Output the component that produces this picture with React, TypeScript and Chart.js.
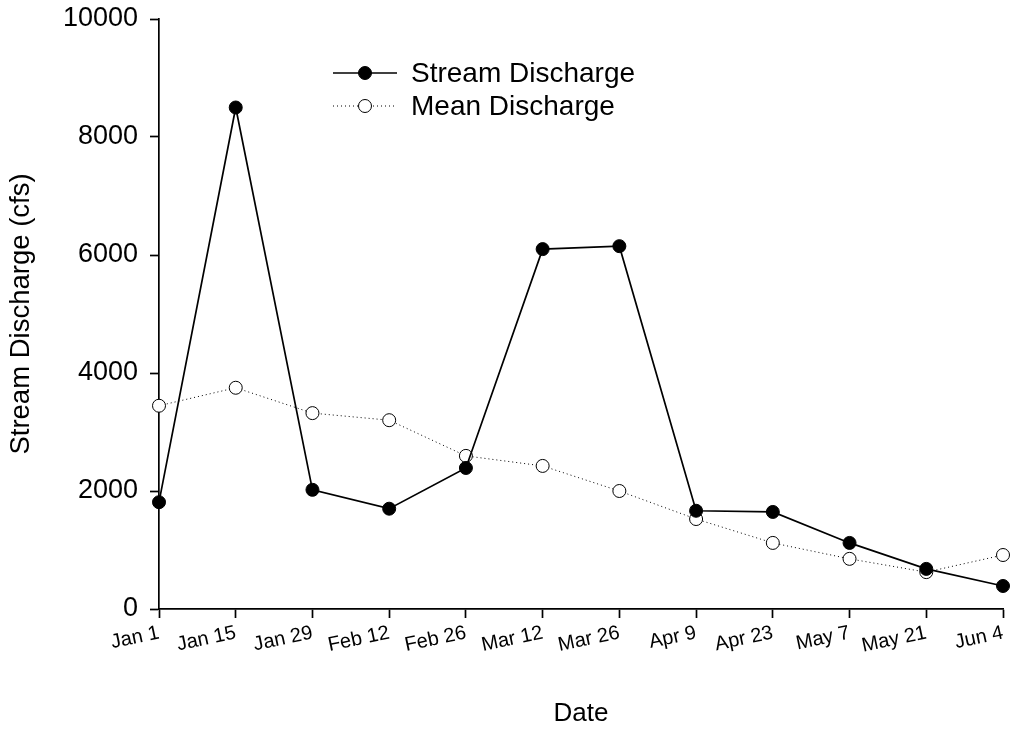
import React, { useEffect, useRef } from "react";
import { Chart, registerables } from "chart.js";

Chart.register(...registerables);

const dates = ["Jan 1", "Jan 15", "Jan 29", "Feb 12", "Feb 26", "Mar 12", "Mar 26", "Apr 9", "Apr 23", "May 7", "May 21", "Jun 4"];
const streamDischarge = [1810, 8500, 2020, 1700, 2390, 6100, 6150, 1665, 1645, 1120, 680, 390];
const meanDischarge = [3445, 3750, 3320, 3200, 2595, 2425, 2000, 1525, 1120, 850, 625, 915];
const yTicks = [0, 2000, 4000, 6000, 8000, 10000];

const FONT = "'Liberation Sans', Arial, sans-serif";

const legendPlugin = {
  id: "customLegend",
  afterDatasetsDraw(chart: any) {
    const ctx = chart.ctx;
    const items = chart.data.datasets.map((d: any) => ({
      label: d.label,
      color: d.borderColor,
      fill: d.pointBackgroundColor,
      dash: d.borderDash || [],
      width: d.borderWidth,
      r: d.pointRadius,
    }));
    const x0 = 333;
    const x1 = 397;
    const tx = 411;
    const ys = [73, 106];
    ctx.save();
    items.forEach((it: any, i: number) => {
      const y = ys[i];
      ctx.beginPath();
      ctx.setLineDash(it.dash);
      ctx.strokeStyle = it.color;
      ctx.lineWidth = it.width;
      ctx.moveTo(x0, y);
      ctx.lineTo(x1, y);
      ctx.stroke();
      ctx.setLineDash([]);
      ctx.beginPath();
      ctx.arc((x0 + x1) / 2, y, it.r, 0, Math.PI * 2);
      ctx.fillStyle = it.fill;
      ctx.fill();
      ctx.lineWidth = 1;
      ctx.strokeStyle = "#000";
      ctx.stroke();
      ctx.fillStyle = "#000";
      ctx.font = `28px ${FONT}`;
      ctx.textBaseline = "middle";
      ctx.textAlign = "left";
      ctx.fillText(it.label, tx, y + 1);
    });
    ctx.restore();
  },
};

export default function App() {
  const ref = useRef<HTMLCanvasElement>(null);
  useEffect(() => {
    if (!ref.current) return;
    const chart = new Chart(ref.current, {
      type: "line",
      data: {
        labels: dates,
        datasets: [
          {
            label: "Stream Discharge",
            data: streamDischarge,
            borderColor: "#000",
            borderWidth: 1.7,
            pointRadius: 6.5,
            pointBackgroundColor: "#000",
            pointBorderColor: "#000",
            pointBorderWidth: 1,
            tension: 0,
            clip: false as any,
          },
          {
            label: "Mean Discharge",
            data: meanDischarge,
            borderColor: "#000",
            borderWidth: 1,
            borderDash: [1, 3],
            pointRadius: 6.5,
            pointBackgroundColor: "#fff",
            pointBorderColor: "#000",
            pointBorderWidth: 1,
            tension: 0,
            clip: false as any,
          },
        ],
      },
      options: {
        responsive: false,
        animation: false,
        layout: { padding: { top: 19, right: 8, left: 0, bottom: 0 } },
        plugins: {
          legend: { display: false },
          tooltip: { enabled: false },
        },
        scales: {
          x: {
            type: "category",
            offset: false,
            border: { display: true, color: "#000", width: 1.7 },
            grid: { display: true, drawOnChartArea: false, drawTicks: true, tickLength: 9, tickColor: "#000", tickWidth: 1.7 },
            ticks: {
              color: "#000",
              font: { family: FONT, size: 20 },
              minRotation: 12,
              maxRotation: 12,
              autoSkip: false,
              padding: 3,
            },
            title: {
              display: true,
              text: "Date",
              color: "#000",
              font: { family: FONT, size: 26 },
              padding: { top: 0, bottom: 2 },
            },
            afterFit(scale: any) {
              scale.height = 122;
            },
          },
          y: {
            min: 0,
            max: 10000,
            afterBuildTicks(scale: any) {
              scale.ticks = yTicks.map((v) => ({ value: v }));
            },
            border: { display: true, color: "#000", width: 1.7 },
            grid: { display: true, drawOnChartArea: false, drawTicks: true, tickLength: 9, tickColor: "#000", tickWidth: 1.7 },
            ticks: {
              color: "#000",
              font: { family: FONT, size: 27, lineHeight: 0.5 },
              padding: 12,
              callback: (v: any) => String(v),
            },
            title: {
              display: true,
              text: "Stream Discharge (cfs)",
              color: "#000",
              font: { family: FONT, size: 27.5 },
              padding: { top: 5, bottom: 0 },
            },
            afterFit(scale: any) {
              scale.width = 159;
            },
          },
        },
      },
      plugins: [legendPlugin],
    });
    return () => chart.destroy();
  }, []);
  return (
    <canvas
      ref={ref}
      width={1011}
      height={731}
      style={{ position: "absolute", left: 0, top: 0, width: 1011, height: 731, background: "#fff" }}
    />
  );
}
